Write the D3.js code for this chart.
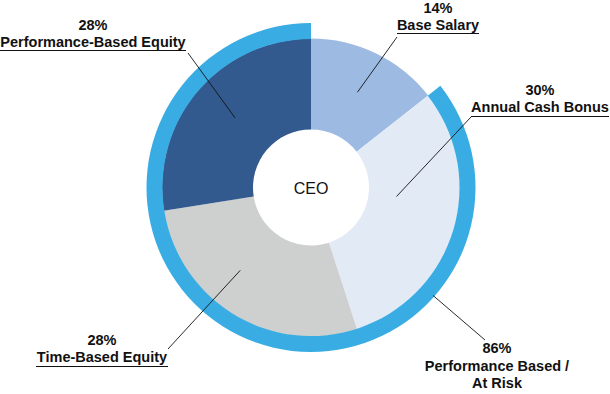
<!DOCTYPE html>
<html><head><meta charset="utf-8">
<script src="https://cdn.jsdelivr.net/npm/d3@7"></script>
<style>
html,body{margin:0;padding:0;background:#fff;}
svg{display:block;}
text{font-family:"Liberation Sans",Arial,sans-serif;fill:#111;}
</style></head>
<body>
<svg id="c" width="610" height="394"></svg>
<script>
const categories = ["Base Salary","Annual Cash Bonus","Time-Based Equity","Performance-Based Equity"];
// slice shares as drawn in the picture
const values = [14.4, 30.6, 27.5, 27.5];
// percentages printed on the labels
const pctLabels = ["14%","30%","28%","28%"];
const colors = ["#9dbbe2","#e2eaf6","#cecfcf","#335a8f"];
const atRiskLabel = ["86%","Performance Based /","At Risk"];
const atRiskStart = 14.4; // ring covers everything after base salary
const centerLabel = "CEO";

const svg = d3.select("#c");
const cx = 311, cy = 187.5;
const rInner = 58, rPie = 149, rRing = 164.5;

const g = svg.append("g").attr("transform",`translate(${cx},${cy})`);
const pie = d3.pie().sort(null).value(d=>d);
const arcs = pie(values);
const arc = d3.arc().innerRadius(rInner).outerRadius(rPie);
g.selectAll("path.slice").data(arcs).enter().append("path")
  .attr("class","slice").attr("d",arc).attr("fill",(d,i)=>colors[i]);

// ring for performance-based / at risk portion
const angle = d3.scaleLinear().domain([0,100]).range([0,2*Math.PI]);
const ringArc = d3.arc().innerRadius(rPie-0.5).outerRadius(rRing)
  .startAngle(angle(atRiskStart)).endAngle(angle(100));
g.append("path").attr("d",ringArc()).attr("fill","#39ade3");

g.append("text").attr("x",0).attr("y",6).attr("text-anchor","middle")
  .style("font-size","16px").style("fill","#111").text(centerLabel);

// label layout
const layout = [
  {x:438, y:13, ax:397, ay:37, ang:26, r:106, ul:[397,479,33.5]},
  {x:540, y:95, ax:471, ay:117, ang:96, r:86, ul:[471,609,116.5]},
  {x:102, y:345, ax:168, ay:349, ang:220.5, r:109, ul:[36,168,366.5]},
  {x:93, y:30, ax:188, ay:53, ang:312.5, r:103, ul:[0,186,50.5]}
];
const fs = 14.5;
arcs.forEach((a,i)=>{
  const L = layout[i];
  const t = L.ang*Math.PI/180;
  const px = cx + L.r*Math.sin(t), py = cy - L.r*Math.cos(t);
  svg.append("line").attr("x1",L.ax).attr("y1",L.ay).attr("x2",px).attr("y2",py)
    .attr("stroke","#111").attr("stroke-width",0.9);
  const tx = svg.append("text").attr("text-anchor","middle").style("font-size",fs+"px").style("font-weight","bold");
  tx.append("tspan").attr("x",L.x).attr("y",L.y).text(pctLabels[i]);
  tx.append("tspan").attr("x",L.x).attr("y",L.y+17).text(categories[i]);
  svg.append("line").attr("x1",L.ul[0]).attr("x2",L.ul[1]).attr("y1",L.ul[2]).attr("y2",L.ul[2])
    .attr("stroke","#111").attr("stroke-width",1.2);
});

// at risk label
svg.append("line").attr("x1",cx+163*Math.sin(131.5*Math.PI/180)).attr("y1",cy-163*Math.cos(131.5*Math.PI/180))
  .attr("x2",485).attr("y2",340).attr("stroke","#111").attr("stroke-width",0.9);
const tr = svg.append("text").attr("text-anchor","middle").style("font-size",fs+"px").style("font-weight","bold");
atRiskLabel.forEach((s,i)=>{
  tr.append("tspan").attr("x",497).attr("y",353+i*17.5).text(s);
});
</script>
</body></html>
